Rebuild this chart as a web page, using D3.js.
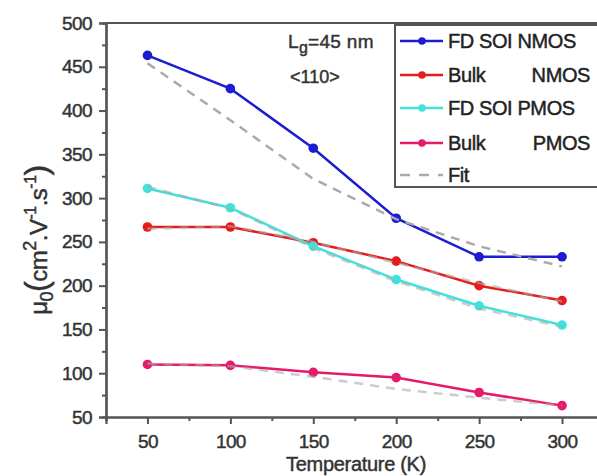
<!DOCTYPE html>
<html>
<head>
<meta charset="utf-8">
<script src="https://cdn.jsdelivr.net/npm/d3@7"></script>
<style>
  body { margin: 0; background: #fff; }
  svg { font-family: "Liberation Sans", Arial, sans-serif; }
</style>
</head>
<body>
<svg id="canvas"></svg>
<script>
let temps = [50, 100, 150, 200, 250, 300]

let fdsoiNmos = [463, 425, 357, 277, 233, 233]
let bulkNmos = [267, 267, 249, 228, 200, 183]
let fdsoiPmos = [311, 289, 245, 207, 177, 155]
let bulkPmos = [110, 109, 101, 95, 78, 63]

let fitFdsoiNmos = [454, 389, 322, 276, 245, 222]
let fitBulkNmos = [265, 268, 250, 226, 203, 182]
let fitFdsoiPmos = [313, 288, 243, 205, 174, 153]
let fitBulkPmos = [111, 108, 96, 82, 72, 63]

let xTicks = [50, 100, 150, 200, 250, 300]
let yTicks = [50, 100, 150, 200, 250, 300, 350, 400, 450, 500]

let width = 597
let height = 476

let plotLeft = 106
let plotRight = 598
let plotTop = 23
let plotBottom = 417

let canvas = d3.select('#canvas')
               .attr('width', width)
               .attr('height', height)

let xScale = d3.scaleLinear()
               .domain([25, 50 + (plotRight - 147) / 83 * 50])
               .range([plotLeft, plotRight])

let yScale = d3.scaleLinear()
               .domain([50, 500])
               .range([plotBottom, plotTop])

let series = [
  { name: 'FD SOI NMOS', values: fdsoiNmos, fit: fitFdsoiNmos, color: '#1c1cd0' },
  { name: 'Bulk NMOS', values: bulkNmos, fit: fitBulkNmos, color: '#e61c1c' },
  { name: 'FD SOI PMOS', values: fdsoiPmos, fit: fitFdsoiPmos, color: '#3fe3dc' },
  { name: 'Bulk PMOS', values: bulkPmos, fit: fitBulkPmos, color: '#e61a6a' }
]

let line = d3.line()
             .x((d, i) => xScale(temps[i]))
             .y(d => yScale(d))

// text looks heavy in the original, give it a thin outline
let heavy = (sel, color) => sel.attr('fill', color)
                               .attr('stroke', color)
                               .attr('stroke-width', 0.45)

// frame top line
canvas.append('line')
      .attr('x1', plotLeft).attr('x2', plotRight)
      .attr('y1', plotTop).attr('y2', plotTop)
      .attr('stroke', '#555').attr('stroke-width', 2)

// data lines first, fits on top
series.forEach(s => {
  canvas.append('path')
        .attr('d', line(s.values))
        .attr('fill', 'none')
        .attr('stroke', s.color)
        .attr('stroke-width', 2.5)

  canvas.selectAll(null)
        .data(s.values)
        .enter()
        .append('circle')
        .attr('cx', (d, i) => xScale(temps[i]))
        .attr('cy', d => yScale(d))
        .attr('r', 4.8)
        .attr('fill', s.color)
})

series.forEach(s => {
  canvas.append('path')
        .attr('d', line(s.fit))
        .attr('fill', 'none')
        .attr('stroke', '#aaa')
        .attr('stroke-width', 2.5)
        .attr('stroke-dasharray', '9,7')
        .attr('opacity', s.name == 'FD SOI NMOS' ? 1 : 0.6)
})

// axes
let xAxis = d3.axisBottom(xScale)
              .tickValues(xTicks)
              .tickSize(7)
              .tickFormat(d3.format('d'))

let xMinor = d3.axisBottom(xScale)
               .tickValues([25, 75, 125, 175, 225, 275])
               .tickSize(4)
               .tickFormat('')

let yAxis = d3.axisLeft(yScale)
              .tickValues(yTicks)
              .tickSize(7)
              .tickFormat(d3.format('d'))

let yMinor = d3.axisLeft(yScale)
               .tickValues([75, 125, 175, 225, 275, 325, 375, 425, 475])
               .tickSize(4)
               .tickFormat('')

let styleAxis = (g) => {
  g.select('.domain').attr('stroke', '#555').attr('stroke-width', 2.2)
  g.selectAll('.tick line').attr('stroke', '#555').attr('stroke-width', 2)
  g.selectAll('.tick text')
   .call(heavy, '#333')
   .style('font-size', '19px')
   .style('letter-spacing', '-0.6px')
}

canvas.append('g')
      .attr('transform', `translate(0, ${plotBottom})`)
      .call(xMinor)
      .call(styleAxis)

canvas.append('g')
      .attr('transform', `translate(0, ${plotBottom})`)
      .call(xAxis)
      .call(styleAxis)
      .call(g => g.selectAll('.tick text').attr('y', 31).attr('dy', 0))

canvas.append('g')
      .attr('transform', `translate(${plotLeft}, 0)`)
      .call(yMinor)
      .call(styleAxis)

canvas.append('g')
      .attr('transform', `translate(${plotLeft}, 0)`)
      .call(yAxis)
      .call(styleAxis)
      .call(g => g.selectAll('.tick text').attr('x', -14))

// axis titles
canvas.append('text')
      .attr('x', 356)
      .attr('y', 471)
      .attr('text-anchor', 'middle')
      .call(heavy, '#333')
      .style('font-size', '20px')
      .style('letter-spacing', '-0.3px')
      .text('Temperature (K)')

let yTitle = canvas.append('text')
                   .attr('transform', 'translate(47, 240) rotate(-90)')
                   .attr('text-anchor', 'middle')
                   .call(heavy, '#333')
                   .style('font-size', '24px')
                   .style('letter-spacing', '-0.5px')

yTitle.append('tspan').text('μ')
yTitle.append('tspan').attr('dy', 6).style('font-size', '18px').text('0')
yTitle.append('tspan').attr('dy', -6).style('font-size', '32px').text('(')
yTitle.append('tspan').text('cm')
yTitle.append('tspan').attr('dy', -11).style('font-size', '18px').text('2')
yTitle.append('tspan').attr('dy', 11).text('.V')
yTitle.append('tspan').attr('dy', -11).style('font-size', '16px').text('-1')
yTitle.append('tspan').attr('dy', 11).text('.s')
yTitle.append('tspan').attr('dy', -11).style('font-size', '16px').text('-1')
yTitle.append('tspan').attr('dy', 11).style('font-size', '32px').text(')')

// annotation
let note = canvas.append('text')
                 .attr('x', 288)
                 .attr('y', 48)
                 .call(heavy, '#333')
                 .style('font-size', '19px')
                 .style('letter-spacing', '0.3px')
note.append('tspan').text('L')
note.append('tspan').attr('dy', 5).style('font-size', '16px').text('g')
note.append('tspan').attr('dy', -5).text('=45 nm')

canvas.append('text')
      .attr('x', 290)
      .attr('y', 83)
      .call(heavy, '#333')
      .style('font-size', '18px')
      .style('letter-spacing', '0px')
      .text('<110>')

// legend
let legend = canvas.append('g')

legend.append('rect')
      .attr('x', 395)
      .attr('y', 25)
      .attr('width', 210)
      .attr('height', 162)
      .attr('fill', '#fff')
      .attr('stroke', '#555')
      .attr('stroke-width', 2)

let legendRows = [
  { a: 'FD SOI NMOS', b: '', color: series[0].color, y: 41 },
  { a: 'Bulk', b: 'NMOS', color: series[1].color, y: 75 },
  { a: 'FD SOI PMOS', b: '', color: series[2].color, y: 108 },
  { a: 'Bulk', b: 'PMOS', color: series[3].color, y: 143 },
  { a: 'Fit', b: '', color: null, y: 175 }
]

legendRows.forEach(r => {
  if (r.color) {
    legend.append('line')
          .attr('x1', 400).attr('x2', 443)
          .attr('y1', r.y).attr('y2', r.y)
          .attr('stroke', r.color).attr('stroke-width', 2.5)
    legend.append('circle')
          .attr('cx', 422).attr('cy', r.y).attr('r', 3.8)
          .attr('fill', r.color)
  } else {
    legend.append('line')
          .attr('x1', 400).attr('x2', 443)
          .attr('y1', r.y).attr('y2', r.y)
          .attr('stroke', '#aaa').attr('stroke-width', 2.5)
          .attr('stroke-dasharray', '10,9')
  }
  legend.append('text')
        .attr('x', 448).attr('y', r.y + 7)
        .call(heavy, '#222')
        .style('font-size', '20px')
        .style('letter-spacing', '-0.4px')
        .text(r.a)
  legend.append('text')
        .attr('x', 590).attr('y', r.y + 7)
        .attr('text-anchor', 'end')
        .call(heavy, '#222')
        .style('font-size', '20px')
        .style('letter-spacing', '-0.4px')
        .text(r.b)
})
</script>
</body>
</html>
